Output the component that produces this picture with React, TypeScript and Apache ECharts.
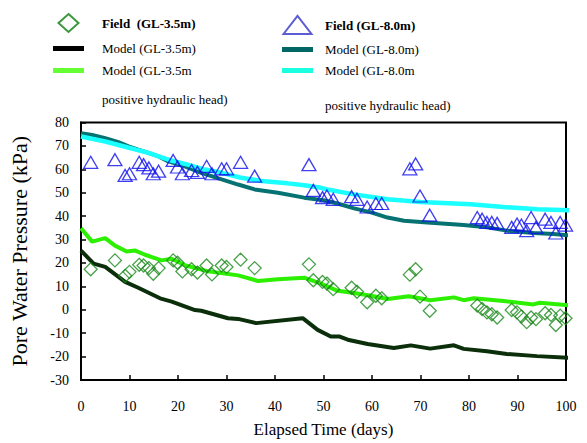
import React, { useEffect, useRef } from 'react';
import * as echarts from 'echarts';

// Field measurements (shared elapsed days)
const fieldDays = [2, 7, 9.1, 10, 12, 12.9, 14, 14.9, 16, 19, 19.9, 20.9, 22.8, 24, 25.9, 27, 29, 30, 32.9, 35.8, 47, 47.9, 49.8, 50.7, 52, 55.8, 56.9, 59, 60.8, 62, 67.8, 69, 69.9, 71.9, 81.7, 82.7, 83.7, 84.7, 85.8, 88.8, 89.9, 90.8, 91.9, 92.8, 93.8, 95.7, 96.9, 97.9, 98.8, 99.9];
const field35 = [17.3, 21.1, 14.5, 16.2, 19.2, 18.9, 17.8, 15.4, 17.8, 21.1, 20.1, 16.4, 17.3, 15.9, 18.9, 15.1, 18.9, 18.3, 21.4, 17.8, 19.4, 12.6, 11.9, 11.2, 8.8, 9.4, 7.7, 3.2, 6.0, 4.9, 15.0, 17.3, 5.6, -0.4, 1.8, 0.3, -1.1, -1.9, -3.3, -0.1, -1.1, -2.9, -5.3, -3.3, -4.0, -1.5, -2.2, -6.5, -2.5, -3.6];
const field80 = [63.0, 64.1, 57.4, 58.1, 63.0, 62.0, 60.6, 58.1, 59.2, 63.8, 61.0, 58.1, 59.5, 58.7, 61.3, 58.1, 60.2, 60.2, 63.0, 57.1, 62.0, 51.0, 47.9, 48.6, 47.2, 48.3, 47.2, 43.9, 45.4, 45.4, 60.2, 62.3, 48.6, 40.4, 39.4, 38.7, 37.3, 37.3, 36.9, 35.2, 36.6, 36.2, 33.8, 39.4, 35.2, 38.7, 37.3, 32.8, 37.3, 36.2];

// Model (GL-3.5m)
const model35Days = [0, 2.6, 5, 9.1, 11.8, 16.3, 18.7, 23.5, 24.8, 30.3, 32.4, 36.1, 45.7, 48.8, 51.5, 53.2, 55, 59.1, 64.5, 68, 72, 76.9, 78.9, 83.7, 87.8, 94, 101];
const model35 = [25.3, 19.7, 18.3, 11.9, 9.4, 4.9, 3.5, -0.1, -0.4, -3.6, -3.9, -5.7, -3.6, -8.6, -11.4, -11.4, -12.8, -14.6, -16.3, -15.2, -16.6, -15.2, -16.7, -17.7, -18.9, -19.8, -20.6];

// Model (GL-3.5m positive hydraulic head)
const model35pDays = [0, 2.3, 5, 7, 9.4, 11.2, 13.2, 16.6, 18.7, 21.4, 26.2, 29.6, 32.4, 36.5, 40.6, 46, 49.5, 52.9, 56.3, 59.8, 63.2, 67.6, 72, 76.9, 78.9, 81, 87.1, 93.3, 94.6, 101];
const model35p = [34.8, 29.1, 30.6, 27.4, 24.9, 25.3, 23.5, 21.1, 21.8, 19.0, 16.4, 15.5, 14.7, 12.3, 13.0, 13.7, 11.2, 8.1, 7.2, 6.0, 4.6, 5.8, 4.1, 5.3, 4.1, 4.9, 3.7, 2.3, 3.0, 1.8];

// Model (GL-8.0m)
const model80Days = [0, 2.3, 5, 7.7, 9.8, 11.8, 13.9, 16, 18, 21.4, 24.8, 29, 32.4, 35.8, 40.6, 46, 50, 52.9, 56.3, 59.8, 63.2, 66.6, 71.4, 78.9, 83.7, 87.8, 93.3, 97.4, 101];
const model80 = [75.4, 74.7, 73.3, 71.6, 69.8, 68.4, 67.0, 65.5, 63.4, 61.3, 58.5, 55.7, 53.5, 51.4, 50.0, 47.9, 46.8, 45.4, 43.3, 41.6, 39.4, 38.0, 37.3, 36.2, 35.2, 33.8, 32.8, 32.4, 31.7];

// Model (GL-8.0m positive hydraulic head)
const model80pDays = [0, 5, 9.7, 13.9, 18, 22, 25.5, 29, 33, 37.2, 42.6, 46, 49.5, 50.8, 56.3, 63.2, 70, 80.3, 87.1, 94, 101];
const model80p = [74.0, 71.9, 69.3, 67.0, 64.1, 62.0, 59.9, 58.5, 56.4, 55.0, 54.0, 53.2, 52.1, 51.4, 49.3, 47.2, 46.0, 45.1, 43.9, 42.9, 42.5];

const xTicks = [0, 100, 10];
const yTicks = [-30, 80, 10];

const FONT = '"Liberation Serif", "Times New Roman", serif';

const N_F35 = 'Field  (GL-3.5m)';
const N_M35 = 'Model (GL-3.5m)';
const N_M35P = 'Model (GL-3.5m positive hydraulic head)';
const N_F80 = 'Field (GL-8.0m)';
const N_M80 = 'Model (GL-8.0m)';
const N_M80P = 'Model (GL-8.0m positive hydraulic head)';

const C_DIAMOND = '#1a8a1a';
const C_TRI = '#1010ee';
const C_M35 = '#0b2e0b';
const C_M35P = '#2cf000';
const C_M80 = '#077272';
const C_M80P = '#1affff';

const pairs = (xs: number[], ys: number[]) => xs.map((x, i) => [x, ys[i]]);

const lineIcon = 'path://M0,0L31,0L31,5L0,5Z';

function buildOption() {
  const legendText = {
    fontFamily: FONT,
    fontSize: 13,
    color: '#000',
  };
  const fmt = (name: string) => {
    if (name === N_M35P) return 'Model (GL-3.5m';
    if (name === N_M80P) return 'Model (GL-8.0m';
    return name;
  };
  return {
    animation: false,
    backgroundColor: '#fff',
    textStyle: { fontFamily: FONT },
    grid: {
      left: 79,
      right: 21,
      top: 122.5,
      bottom: 60.7,
      show: true,
      borderColor: '#000',
      borderWidth: 2,
      backgroundColor: 'transparent',
    },
    legend: [
      {
        left: 53,
        top: 13,
        orient: 'vertical',
        padding: 0,
        itemWidth: 31,
        itemHeight: 18,
        itemGap: 9,
        selectedMode: false,
        formatter: fmt,
        textStyle: { ...legendText, padding: [0, 0, 0, 13] },
        data: [
          {
            name: N_F35,
            icon: 'path://M10,0L20,9L10,18L0,9Z',
            itemStyle: { color: 'rgba(0,0,0,0)', borderColor: '#0a800a', borderWidth: 2 },
            textStyle: { fontWeight: 'bold' },
          },
          { name: N_M35, icon: lineIcon, itemStyle: { color: '#000', borderWidth: 0 } },
          { name: N_M35P, icon: lineIcon, itemStyle: { color: '#66ff33', borderWidth: 0 } },
        ],
      },
      {
        left: 282,
        top: 15,
        orient: 'vertical',
        padding: 0,
        itemWidth: 31,
        itemHeight: 18,
        itemGap: 8,
        selectedMode: false,
        formatter: fmt,
        textStyle: { ...legendText, padding: [0, 0, 0, 7] },
        data: [
          {
            name: N_F80,
            icon: 'path://M0,18L14,0L28,18Z',
            itemStyle: { color: 'rgba(0,0,0,0)', borderColor: '#3333cc', borderWidth: 2 },
            textStyle: { fontWeight: 'bold' },
          },
          { name: N_M80, icon: lineIcon, itemStyle: { color: '#006666', borderWidth: 0 } },
          { name: N_M80P, icon: lineIcon, itemStyle: { color: '#19ffe0', borderWidth: 0 } },
        ],
      },
    ],
    graphic: [
      {
        type: 'text',
        left: 102,
        top: 93,
        style: { text: 'positive hydraulic head)', font: `13px ${FONT}`, fill: '#000' },
      },
      {
        type: 'text',
        left: 325,
        top: 99,
        style: { text: 'positive hydraulic head)', font: `13px ${FONT}`, fill: '#000' },
      },
    ],
    xAxis: {
      type: 'value',
      min: xTicks[0],
      max: xTicks[1],
      interval: xTicks[2],
      name: 'Elapsed Time (days)',
      nameLocation: 'middle',
      nameGap: 41,
      nameTextStyle: { fontFamily: FONT, fontSize: 17, color: '#000' },
      axisLine: { onZero: false, lineStyle: { color: '#000', width: 2 } },
      axisTick: { inside: true, length: 5, lineStyle: { color: '#000', width: 1.5 } },
      axisLabel: { margin: 19, fontFamily: FONT, fontSize: 14, color: '#000' },
      splitLine: { show: false },
    },
    yAxis: {
      type: 'value',
      min: yTicks[0],
      max: yTicks[1],
      interval: yTicks[2],
      name: 'Pore Water Pressure (kPa)',
      nameLocation: 'middle',
      nameGap: 51,
      nameTextStyle: { fontFamily: FONT, fontSize: 22, color: '#000' },
      axisLine: { onZero: false, lineStyle: { color: '#000', width: 2 } },
      axisTick: { inside: true, length: 5, lineStyle: { color: '#000', width: 1.5 } },
      axisLabel: { margin: 12, fontFamily: FONT, fontSize: 14, color: '#000' },
      splitLine: { show: false },
    },
    series: [
      {
        name: N_M35,
        type: 'line',
        data: pairs(model35Days, model35),
        symbol: 'none',
        clip: false,
        z: 2,
        lineStyle: { color: C_M35, width: 4 },
        itemStyle: { color: C_M35 },
      },
      {
        name: N_M35P,
        type: 'line',
        data: pairs(model35pDays, model35p),
        symbol: 'none',
        clip: false,
        z: 2,
        lineStyle: { color: C_M35P, width: 4 },
        itemStyle: { color: C_M35P },
      },
      {
        name: N_M80,
        type: 'line',
        data: pairs(model80Days, model80),
        symbol: 'none',
        clip: false,
        z: 2,
        lineStyle: { color: C_M80, width: 4 },
        itemStyle: { color: C_M80 },
      },
      {
        name: N_M80P,
        type: 'line',
        data: pairs(model80pDays, model80p),
        symbol: 'none',
        clip: false,
        z: 2,
        lineStyle: { color: C_M80P, width: 4.5 },
        itemStyle: { color: C_M80P },
      },
      {
        name: N_F35,
        type: 'scatter',
        data: pairs(fieldDays, field35),
        symbol: 'diamond',
        symbolSize: [13, 13],
        z: 3,
        itemStyle: { color: 'rgba(0,0,0,0)', borderColor: C_DIAMOND, borderWidth: 1.3 },
      },
      {
        name: N_F80,
        type: 'scatter',
        data: pairs(fieldDays, field80),
        symbol: 'triangle',
        symbolSize: [14, 12],
        z: 3,
        itemStyle: { color: 'rgba(0,0,0,0)', borderColor: C_TRI, borderWidth: 1.3 },
      },
    ],
  };
}

export default function App() {
  const ref = useRef<HTMLDivElement>(null);
  useEffect(() => {
    if (!ref.current) return;
    const chart = echarts.init(ref.current, null, { renderer: 'svg' });
    chart.setOption(buildOption() as any);
    return () => {
      chart.dispose();
    };
  }, []);
  return (
    <div
      ref={ref}
      style={{ position: 'absolute', left: 0, top: 0, width: 587, height: 443, background: '#fff' }}
    />
  );
}
